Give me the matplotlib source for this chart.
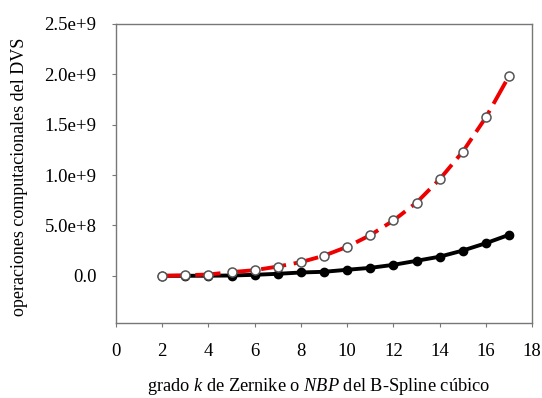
import matplotlib
matplotlib.use("Agg")
import matplotlib.pyplot as plt

plt.rcParams['font.family'] = ['Liberation Serif', 'DejaVu Serif']
plt.rcParams['mathtext.fontset'] = 'custom'
plt.rcParams['mathtext.it'] = 'Liberation Serif:italic'
plt.rcParams['mathtext.rm'] = 'Liberation Serif'

# grado k / NBP
grado = [2, 3, 4, 5, 6, 7, 8, 9, 10, 11, 12, 13, 14, 15, 16, 17]
# operaciones (open circles, red dashed)
ops_zernike = [0.0, 0.005e9, 0.013e9, 0.037e9, 0.056e9, 0.092e9, 0.136e9, 0.20e9,
               0.288e9, 0.404e9, 0.549e9, 0.727e9, 0.959e9, 1.233e9, 1.574e9, 1.984e9]
# operaciones (filled circles, black solid)
ops_bspline = [0.0, 0.0, 0.001e9, 0.003e9, 0.01e9, 0.02e9, 0.033e9, 0.04e9,
               0.06e9, 0.079e9, 0.109e9, 0.149e9, 0.19e9, 0.251e9, 0.324e9, 0.407e9]

yticks = [0, 0.5e9, 1.0e9, 1.5e9, 2.0e9, 2.5e9]
ytick_labels = ["0.0", "5.0e+8", "1.0e+9", "1.5e+9", "2.0e+9", "2.5e+9"]
xticks = [0, 2, 4, 6, 8, 10, 12, 14, 16, 18]

fig = plt.figure(figsize=(5.42, 3.98), dpi=100)
ax = fig.add_axes([0.214, 0.188, 0.768, 0.752])

ax.plot(grado, ops_bspline, color='black', lw=2.8, marker='o', ms=6,
        mfc='black', mec='black', zorder=3)
ax.plot(grado, ops_zernike, color='#ee0000', lw=2.8, dashes=(6.5, 2),
        marker='o', ms=6.5, mfc='white', mec='#555555', mew=1.1, zorder=4)

ax.set_xlim(0, 18)
ax.set_ylim(-0.47e9, 2.5e9)
ax.set_xticks(xticks)
ax.set_yticks(yticks)
ax.set_yticklabels(ytick_labels)
ax.tick_params(labelsize=13.5, color='#777777', length=3, direction='out')
ax.tick_params(axis='x', pad=11)
ax.tick_params(axis='y', pad=11)
for s in ax.spines.values():
    s.set_color('#777777')
    s.set_linewidth(1.0)

ax.set_ylabel("operaciones computacionales del DVS", fontsize=13, va='center')
ax.yaxis.set_label_coords(-0.231, 0.488)
ax.set_xlabel("grado $k$ de Zernike o $NBP$ del B-Spline cúbico", fontsize=13.2, va='center')
ax.xaxis.set_label_coords(0.486, -0.212)

fig.savefig("out.png", dpi=100)
